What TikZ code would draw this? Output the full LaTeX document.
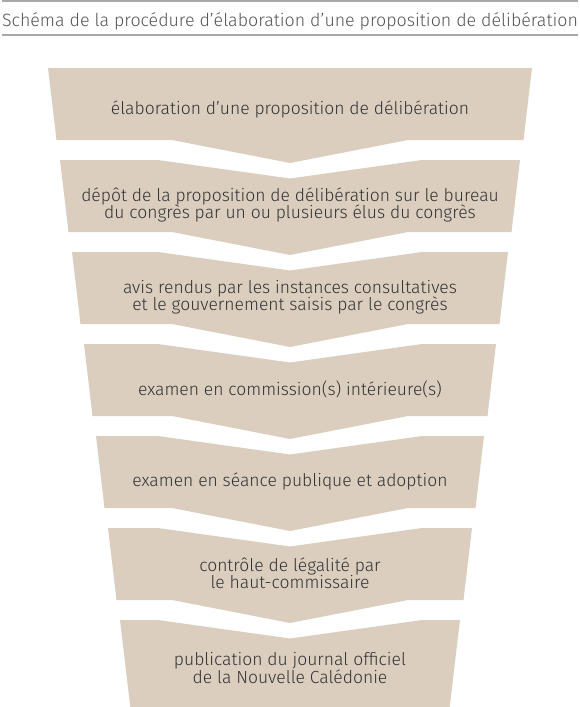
\documentclass[tikz,border=0pt]{standalone}
\usepackage{fontspec}
\setmainfont{Fira Sans Light}
\usepackage{tikz}
\definecolor{funnelFill}{HTML}{DBCEBF}
\definecolor{funnelText}{HTML}{333333}
\definecolor{titleText}{HTML}{555555}
\definecolor{titleRule}{HTML}{A8A8A8}
\newcommand{\stepFont}{\fontsize{17.5}{17.5}\selectfont}

\begin{document}
\begin{tikzpicture}[x=1pt,y=-1pt]
\useasboundingbox (0,0) rectangle (580,707);
\draw[titleRule, line width=1.2pt] (2,1) -- (578,1);
\node[font={\fontsize{17.8}{19}\selectfont}, text=titleText, anchor=base, inner sep=0pt] (titre) at (290,26) {Schéma de la procédure d’élaboration d’une proposition de délibération};
\draw[titleRule, line width=1.2pt] (2,35) -- (578,35);
\fill[funnelFill] (48,68) -- (532,68) -- (523.5,140) -- (408,140) -- (290,163) -- (172,140) -- (56.5,140) -- cycle;
\node[font=\stepFont, text=funnelText, align=center] (elaboration) at (290,109) {élaboration d’une proposition de délibération};
\fill[funnelFill] (60,160) -- (158,160) -- (290,178.5) -- (422,160) -- (520,160) -- (511.5,232) -- (408,232) -- (290,255) -- (172,232) -- (68.5,232) -- cycle;
\node[font=\stepFont, text=funnelText, align=center] (depot) at (290,205) {dépôt de la proposition de délibération sur le bureau\\du congrès par un ou plusieurs élus du congrès};
\fill[funnelFill] (72,252) -- (158,252) -- (290,270.5) -- (422,252) -- (508,252) -- (499.5,324) -- (408,324) -- (290,347) -- (172,324) -- (80.5,324) -- cycle;
\node[font=\stepFont, text=funnelText, align=center] (avis) at (290,297) {avis rendus par les instances consultatives\\et le gouvernement saisis par le congrès};
\fill[funnelFill] (84,344) -- (158,344) -- (290,362.5) -- (422,344) -- (496,344) -- (487.5,416) -- (408,416) -- (290,439) -- (172,416) -- (92.5,416) -- cycle;
\node[font=\stepFont, text=funnelText, align=center] (commission) at (290,389) {examen en commission(s) intérieure(s)};
\fill[funnelFill] (96,436) -- (158,436) -- (290,454.5) -- (422,436) -- (484,436) -- (475.5,508) -- (408,508) -- (290,531) -- (172,508) -- (104.5,508) -- cycle;
\node[font=\stepFont, text=funnelText, align=center] (seance) at (290,481) {examen en séance publique et adoption};
\fill[funnelFill] (108,528) -- (158,528) -- (290,546.5) -- (422,528) -- (472,528) -- (463.5,600) -- (408,600) -- (290,623) -- (172,600) -- (116.5,600) -- cycle;
\node[font=\stepFont, text=funnelText, align=center] (controle) at (290,573) {contrôle de légalité par\\le haut-commissaire};
\fill[funnelFill] (120,620) -- (158,620) -- (290,638.5) -- (422,620) -- (460,620) -- (449.7,707) -- (130.3,707) -- cycle;
\node[font=\stepFont, text=funnelText, align=center] (publication) at (290,668) {publication du journal officiel\\de la Nouvelle Calédonie};
\end{tikzpicture}
\end{document}
